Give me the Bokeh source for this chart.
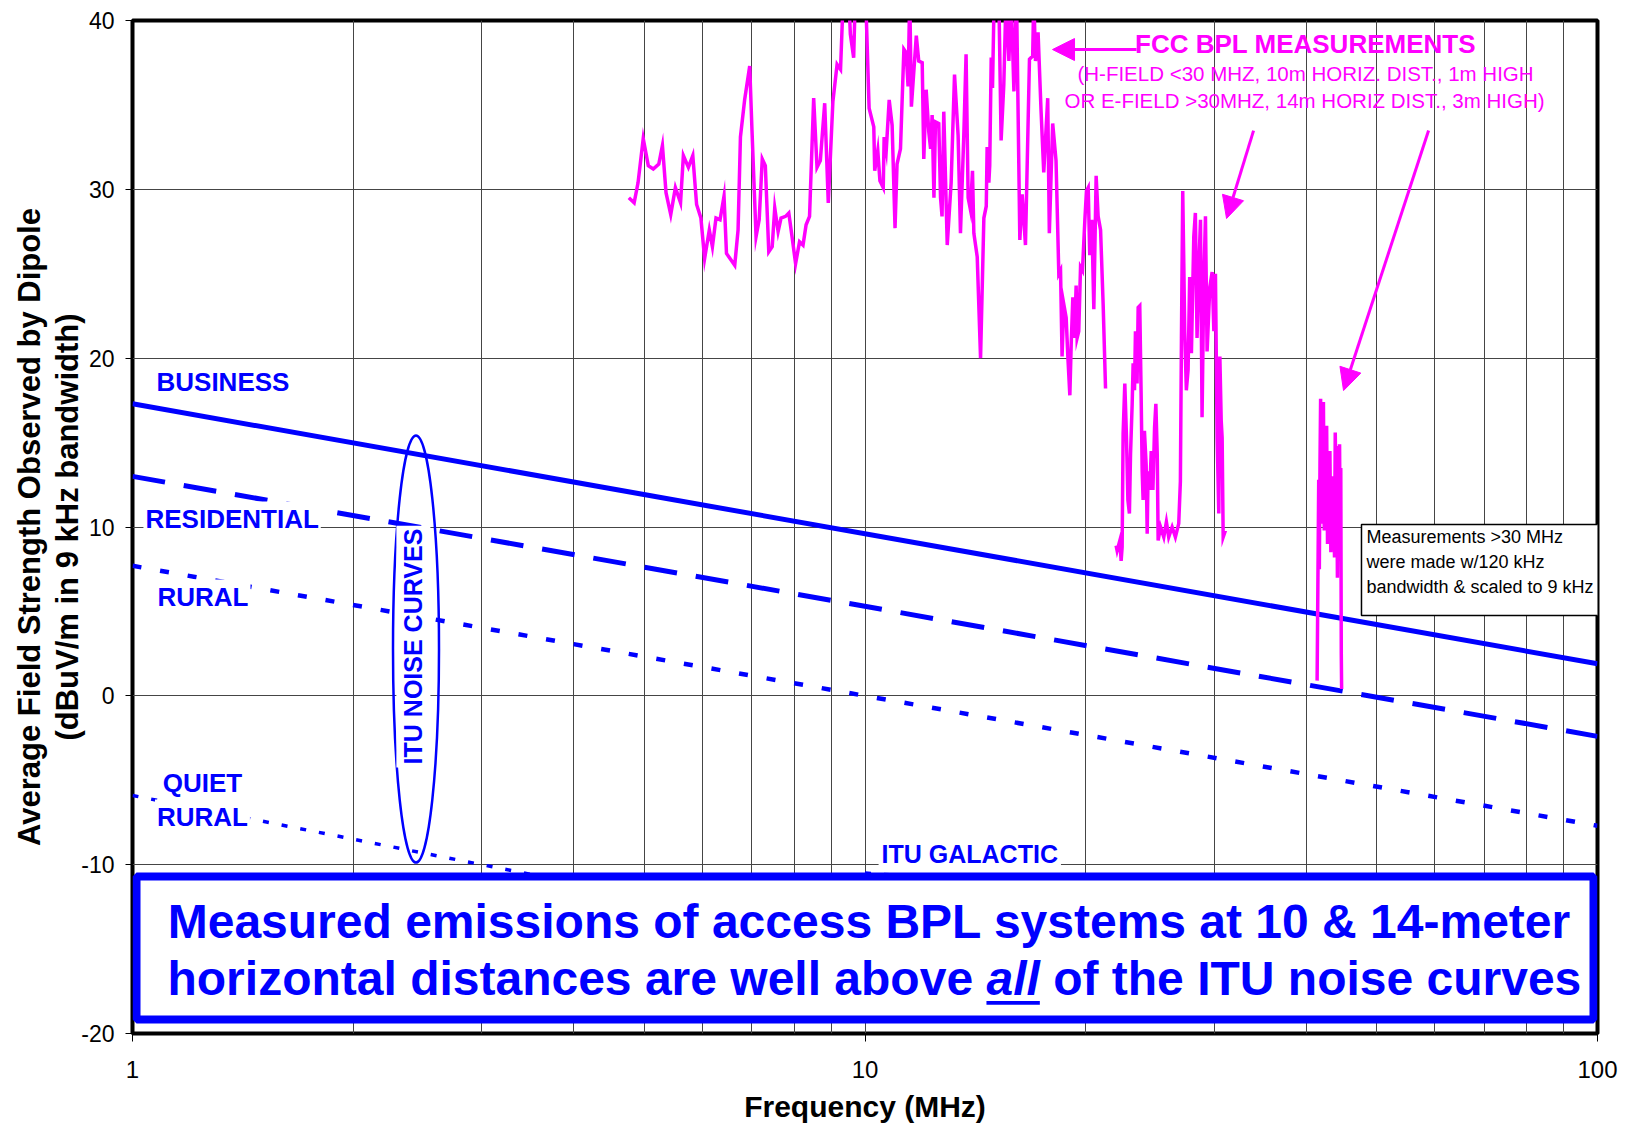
import math
from bokeh.plotting import figure
from bokeh.models import (Range1d, FixedTicker, Label, Arrow, NormalHead, Title,
                          BoxAnnotation, CustomJSTickFormatter)
from bokeh.embed import file_html
from bokeh.resources import INLINE

# ---------------- data ----------------
itu_freq = [1, 100]
business = [17.3, 1.9]
residential = [13.0, -2.4]
rural = [7.7, -7.7]
quiet_freq = [1, 30]
quiet_rural = [-5.9, -18.6]
galactic_freq = [10, 100]
galactic = [-10.5, -13.5]

seg1_freq = [4.76, 4.84, 4.90, 4.98, 5.06, 5.14, 5.23, 5.29, 5.35, 5.43, 5.51, 5.60, 5.65, 5.74,
             5.82, 5.89, 5.97, 6.04, 6.13, 6.19, 6.26, 6.34, 6.42, 6.47, 6.64, 6.71, 6.76, 6.85,
             6.96, 7.01, 7.10, 7.17, 7.24, 7.31, 7.39, 7.47, 7.53, 7.61, 7.68, 7.79, 7.87, 7.95,
             8.04, 8.14, 8.23, 8.31, 8.40, 8.51, 8.60, 8.69, 8.81, 8.91, 9.04, 9.16, 9.26, 9.34,
             9.50, 9.55, 9.65, 9.70, 10.02, 10.13, 10.28, 10.31, 10.41, 10.48, 10.59, 10.62, 10.69,
             10.79, 10.89, 10.99, 11.06, 11.18, 11.30, 11.38, 11.45, 11.51, 11.57, 11.75, 11.84,
             11.97, 12.03, 12.12, 12.22, 12.29, 12.35, 12.42, 12.48, 12.61, 12.68, 12.74, 12.81,
             12.95, 13.11, 13.25, 13.40, 13.50, 13.64, 13.74, 13.83, 13.93, 14.02, 14.08, 14.23,
             14.38, 14.53, 14.64, 14.68, 14.76, 14.80, 14.87, 14.93, 15.01, 15.23, 15.34, 15.47,
             15.58, 15.72, 15.83, 15.97, 16.10, 16.27, 16.39, 16.56, 16.77, 16.94, 17.00, 17.09,
             17.23, 17.39, 17.54, 17.76, 17.85, 18.04, 18.23, 18.39, 18.49, 18.58, 18.68, 18.82,
             18.92, 19.04, 19.12, 19.22, 19.32, 19.42, 19.48, 19.58, 19.69, 19.81, 19.96, 20.06,
             20.17, 20.27, 20.40, 20.53, 20.68, 20.81, 20.97, 21.14, 21.30]
seg1_level = [29.5, 29.2, 30.4, 33.0, 31.4, 31.2, 31.5, 32.6, 29.8, 28.5, 30.1, 29.2, 32.0, 31.3,
              32.0, 29.1, 28.3, 25.9, 27.6, 26.6, 28.3, 28.2, 29.6, 26.2, 25.5, 27.6, 33.1, 35.3,
              37.3, 33.5, 27.2, 28.2, 31.8, 31.4, 26.3, 26.6, 28.9, 27.5, 28.3, 28.4, 28.6, 27.2,
              25.6, 26.9, 26.7, 27.9, 28.4, 35.4, 31.3, 31.7, 35.1, 29.2, 35.2, 37.4, 37.1, 41.5,
              41.5, 39.2, 37.8, 41.5, 41.5, 34.8, 33.7, 31.1, 32.3, 30.5, 30.1, 33.1, 32.3,
              35.3, 33.8, 27.7, 31.5, 32.4, 38.3, 38.1, 36.1, 41.5, 34.9, 39.1, 37.6,
              37.5, 31.8, 35.9, 33.4, 32.4, 34.4, 29.5, 34.0, 33.9, 29.5, 28.4, 34.6,
              26.7, 30.4, 36.8, 33.2, 27.4, 33.1, 38.0, 29.5, 28.8, 31.1, 27.4, 26.0,
              20.0, 28.3, 29.0, 32.5, 30.4, 31.4, 37.8, 36.0, 41.5, 41.5, 32.9, 36.2,
              41.5, 37.6, 41.5, 35.8, 41.5, 27.0, 29.7, 26.7, 37.7, 37.9, 41.5, 37.6,
              39.3, 34.7, 31.0, 35.4, 27.4, 33.9, 31.7, 25.0, 25.2, 20.1, 23.2, 22.4,
              20.1, 17.8, 20.8, 23.6, 21.2, 24.3, 21.2, 21.6, 25.4, 25.2, 28.2, 29.9,
              30.1, 26.1, 28.2, 22.9, 30.8, 28.4, 27.6, 23.2, 18.2]

seg2_freq = [22.02, 22.09, 22.28, 22.37, 22.44, 22.51, 22.63, 22.75, 22.85, 22.96, 23.04, 23.16,
             23.23, 23.33, 23.40, 23.52, 23.60, 23.72, 23.82, 23.90, 23.97, 24.07, 24.20, 24.28,
             24.35, 24.48, 24.59, 24.72, 24.85, 24.95, 25.06, 25.13, 25.32, 25.58, 25.79, 25.98,
             26.26, 26.53, 26.81, 26.95, 27.04, 27.15, 27.24, 27.32, 27.46, 27.61, 27.75, 27.90,
             28.11, 28.25, 28.40, 28.55, 28.71, 28.85, 29.00, 29.16, 29.31, 29.56, 29.78, 29.94,
             30.09, 30.25, 30.41, 30.51, 30.64, 30.73, 30.83, 31.05]
seg2_level = [8.9, 8.6, 9.2, 8.0, 8.8, 15.5, 18.5, 15.3, 11.6, 10.8, 14.3, 17.3,
              19.7, 18.1, 21.6, 18.5, 23.0, 23.1, 17.9, 13.3, 11.6, 15.7, 13.7, 9.6,
              13.3, 12.2, 14.5, 12.2, 15.9, 17.3, 14.3, 9.2, 10.0, 9.4, 10.3, 9.4,
              10.0, 9.4, 10.2, 12.7, 21.2, 29.9, 25.6, 21.6, 18.1, 19.3, 24.8, 20.3,
              27.2, 28.6, 21.2, 25.2, 28.2, 16.5, 24.2, 28.4, 20.4, 24.2, 25.1, 21.6,
              25.0, 15.3, 10.8, 20.1, 16.3, 15.3, 9.4, 9.8]

seg3_freq = [41.42, 41.52, 41.63, 41.71, 41.80, 41.88, 41.95, 42.05, 42.16, 42.25, 42.36, 42.45,
             42.55, 42.68, 42.80, 42.90, 43.01, 43.12, 43.25, 43.38, 43.50, 43.62, 43.75, 43.85,
             43.95, 44.05, 44.15, 44.25, 44.35, 44.45, 44.55, 44.62, 44.69, 44.74]
seg3_level = [0.9, 6.5, 12.8, 7.5, 13.9, 17.6, 10.2, 16.9, 12.0, 17.4, 9.8, 15.2,
              12.5, 16.0, 9.0, 13.2, 11.0, 14.5, 8.5, 13.0, 10.5, 11.8, 8.2, 15.6,
              12.3, 14.8, 7.0, 14.0, 10.0, 14.9, 8.0, 13.5, 2.5, 0.4]

x_ticks = [1, 10, 100]
x_minor_ticks = [2, 3, 4, 5, 6, 7, 8, 9, 20, 30, 40, 50, 60, 70, 80, 90]
y_ticks = [-20, -10, 0, 10, 20, 30, 40]

BLUE = "#0000FF"
MAGENTA = "#FF00FF"
FONT = "Liberation Sans"

# ---------------- figure ----------------
W, H = 1629, 1127
ML, MR, MT, MB = 132, 32, 20, 94
p = figure(width=W, height=H, x_axis_type="log",
           x_range=Range1d(1, 100), y_range=Range1d(-20, 40),
           output_backend="svg", toolbar_location=None,
           min_border_left=ML, min_border_right=MR, min_border_top=MT, min_border_bottom=MB)
p.background_fill_color = "white"
p.border_fill_color = "white"
p.outline_line_color = "black"
p.outline_line_width = 4
p.outline_line_alpha = 1.0

xt = FixedTicker(ticks=x_ticks, minor_ticks=x_minor_ticks)
yt = FixedTicker(ticks=y_ticks)
p.xaxis.ticker = xt
p.xgrid.ticker = xt
p.yaxis.ticker = yt
p.ygrid.ticker = yt
p.xaxis.formatter = CustomJSTickFormatter(code="return String(tick)")
p.yaxis.formatter = CustomJSTickFormatter(code="return String(tick)")

for g in (p.xgrid, p.ygrid):
    g.grid_line_color = "#454545"
    g.grid_line_width = 1
p.xgrid.minor_grid_line_color = "#454545"
p.xgrid.minor_grid_line_width = 1

for ax in (p.xaxis, p.yaxis):
    ax.axis_line_color = None
    ax.major_tick_line_color = "black"
    ax.major_tick_line_width = 1
    ax.major_tick_in = 0
    ax.minor_tick_line_color = None
    ax.major_label_text_font = FONT
    ax.major_label_text_color = "black"
p.xaxis.major_tick_out = 8
p.xaxis.major_label_standoff = 19
p.xaxis.major_label_text_font_size = "24px"
p.yaxis.major_tick_out = 7
p.yaxis.major_label_standoff = 11
p.yaxis.major_label_text_font_size = "23px"

p.xaxis.axis_label = "Frequency (MHz)"
p.xaxis.axis_label_text_font = FONT
p.xaxis.axis_label_text_font_size = "30px"
p.xaxis.axis_label_text_font_style = "bold"
p.xaxis.axis_label_text_color = "black"
p.xaxis.axis_label_standoff = 9

for txt, so in (("(dBuV/m in 9 kHz bandwidth)", -14), ("Average Field Strength Observed by Dipole", 16)):
    p.add_layout(Title(text=txt, align="center", vertical_align="middle", text_font=FONT,
                       text_font_size="31px", text_font_style="bold", text_color="black",
                       standoff=so, offset=0),
                 "left")

# ---------------- ITU noise curves ----------------
p.line(itu_freq, business, line_color=BLUE, line_width=5)
p.line(itu_freq, residential, line_color=BLUE, line_width=5, line_dash="33 19")
p.line(itu_freq, rural, line_color=BLUE, line_width=4.5, line_dash="9 19")
p.line(quiet_freq, quiet_rural, line_color=BLUE, line_width=3.5, line_dash="6 13")
p.line(galactic_freq, galactic, line_color=BLUE, line_width=3.5, line_dash="6 13")

# ---------------- FCC measurements ----------------
for fx, fy in ((seg1_freq, seg1_level), (seg2_freq, seg2_level), (seg3_freq, seg3_level)):
    p.line(fx, fy, line_color=MAGENTA, line_width=3.5, line_join="miter")

# ellipse around ITU labels
p.ellipse(x=[2.438], y=[2.77], width=46, height=427, width_units="screen",
          height_units="screen", fill_color=None, line_color=BLUE, line_width=2.5)


def lab(text, x, y, size, color, bold=True, align="left", baseline="middle", angle=0,
        bg=None, pad=0, italic=False, x_offset=0):
    style = "bold" if bold else "normal"
    if italic:
        style = "bold italic" if bold else "italic"
    l = Label(x=x, y=y, text=text, text_font=FONT, text_font_size=f"{size}px",
              text_font_style=style, text_color=color, text_align=align,
              text_baseline=baseline, angle=angle, x_offset=x_offset,
              background_fill_color=bg, padding=pad)
    p.add_layout(l)
    return l


# noise-curve labels
lab("BUSINESS", 1.0716, 18.56, 26, BLUE, bg="white", pad=2)
lab("RESIDENTIAL", 1.035, 10.50, 26, BLUE, bg="white", pad=2)
lab("RURAL", 1.075, 5.88, 26, BLUE, bg="white", pad=2)
lab("QUIET", 1.246, -5.19, 26, BLUE, align="center", bg="white", pad=2)
lab("RURAL", 1.246, -7.15, 26, BLUE, align="center", bg="white", pad=2)
lab("ITU GALACTIC", 13.90, -9.34, 25, BLUE, align="center", bg="white", pad=3)
lab("ITU NOISE CURVES", 2.418, 2.92, 25, BLUE, align="center", angle=math.pi / 2,
    bg="white", pad=3)

# FCC annotation
lab("FCC BPL MEASUREMENTS", 39.94, 38.58, 26, MAGENTA, align="center")
lab("(H-FIELD <30 MHZ, 10m HORIZ. DIST., 1m HIGH", 39.94, 36.86, 20.5, MAGENTA,
    bold=False, align="center")
lab("OR E-FIELD >30MHZ, 14m HORIZ DIST., 3m HIGH)", 39.81, 35.26, 20.5, MAGENTA,
    bold=False, align="center")

for (xs, ys, xe, ye) in ((23.48, 38.28, 18.03, 38.28),
                         (33.92, 33.48, 31.16, 28.27),
                         (58.8, 33.48, 45.01, 18.08)):
    p.add_layout(Arrow(x_start=xs, y_start=ys, x_end=xe, y_end=ye,
                       line_color=MAGENTA, line_width=3,
                       end=NormalHead(size=22, fill_color=MAGENTA, line_color=MAGENTA,
                                      line_width=1)))

# note box  (padding given as left, right, top, bottom)
note = Label(x=47.62, y=10.15,
             text="Measurements >30 MHz\nwere made w/120 kHz\nbandwidth & scaled to 9 kHz",
             text_font=FONT, text_font_size="18px", text_color="black",
             text_align="left", text_baseline="top", text_line_height=1.25,
             background_fill_color="white", border_line_color="black",
             border_line_width=1.5, padding=(5, 5, 3, 18))
p.add_layout(note)

# ---------------- bottom message box ----------------
p.add_layout(BoxAnnotation(left=1.0127, right=98.75, top=-10.70, bottom=-19.17,
                           fill_color="white", fill_alpha=1.0, line_color=BLUE,
                           line_width=8, line_alpha=1.0, level="annotation"))

FS = 48
BOLD_W = {' ': 278, 'a': 556, 'b': 611, 'c': 556, 'd': 611, 'e': 556, 'f': 333, 'h': 611,
          'i': 278, 'l': 278, 'n': 611, 'o': 611, 'r': 389, 's': 556, 't': 333, 'u': 611,
          'v': 556, 'w': 778, 'z': 500, 'I': 278, 'T': 611, 'U': 722}


def tw(s):
    return sum(BOLD_W[c] for c in s) / 1000.0 * FS


msg_x = 10.30
lab("Measured emissions of access BPL systems at 10 & 14-meter", msg_x, -13.34, FS, BLUE,
    align="center", x_offset=-5)
part_a = "horizontal distances are well above"
part_b = "all"
part_c = "of the ITU noise curves"
total = tw(part_a) + tw(" ") + tw(part_b) + tw(" ") + tw(part_c)
off_a = -total / 2
off_b = off_a + tw(part_a) + tw(" ")
off_c = off_b + tw(part_b) + tw(" ")
lab(part_a, msg_x, -16.77, FS, BLUE, x_offset=off_a)
lab(part_b, msg_x, -16.77, FS, BLUE, x_offset=off_b, italic=True)
lab(part_c, msg_x, -16.77, FS, BLUE, x_offset=off_c)

PX_PER_DECADE = (W - ML - MR) / 2.0
u_left = msg_x * 10 ** (off_b / PX_PER_DECADE)
u_right = msg_x * 10 ** ((off_b + tw(part_b)) / PX_PER_DECADE)
p.add_layout(BoxAnnotation(left=u_left, right=u_right, top=-18.07, bottom=-18.30,
                           fill_color=BLUE, fill_alpha=1.0, line_color=None,
                           level="annotation"))

open("out.html", "w").write(file_html(p, INLINE))
